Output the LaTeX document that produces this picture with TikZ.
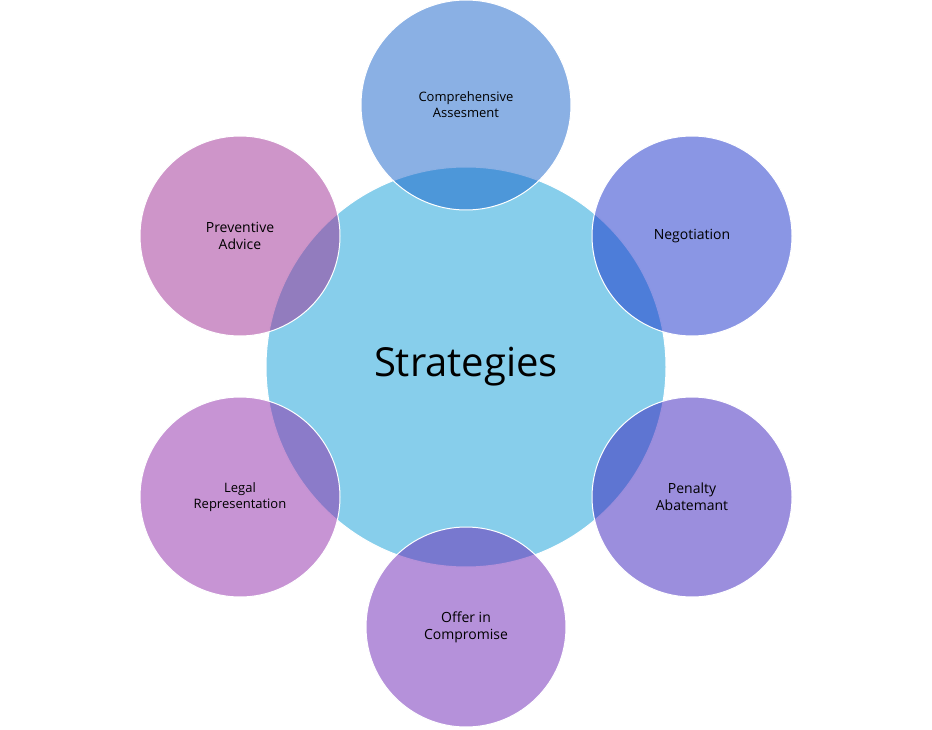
\documentclass[tikz,border=0pt]{standalone}
\usepackage{fontspec}
\setmainfont{Open Sans}
\definecolor{cen}{RGB}{135,206,235}
\definecolor{c1}{RGB}{21,97,201}
\definecolor{c2}{RGB}{21,45,201}
\definecolor{c3}{RGB}{55,29,187}
\definecolor{c4}{RGB}{107,35,181}
\definecolor{c5}{RGB}{143,41,169}
\definecolor{c6}{RGB}{157,43,147}
\begin{document}
\begin{tikzpicture}[x=1pt,y=-1pt,
 sat/.style={circle,minimum size=200pt,inner sep=0pt,draw=white,line width=1pt,fill opacity=0.5,text opacity=1,align=center,font=\fontsize{14}{17}\selectfont}]
\useasboundingbox (0,0) rectangle (932,730);
\node[circle,minimum size=400pt,inner sep=0pt,fill=cen,draw=white,line width=1pt,font=\fontsize{40}{48}\selectfont] (c) at (466,367) {Strategies};
\node[sat,fill=c1,minimum size=210pt,font=\fontsize{13}{16}\selectfont] (a) at (466,105) {Comprehensive\\Assesment};
\node[sat,fill=c2] (b) at (692,236) {Negotiation};
\node[sat,fill=c3] (p) at (692,497) {Penalty\\Abatemant};
\node[sat,fill=c4] (o) at (466,627) {Offer in\\Compromise};
\node[sat,fill=c5,font=\fontsize{13}{16}\selectfont] (l) at (240,497) {Legal\\Representation};
\node[sat,fill=c6] (v) at (240,236) {Preventive\\Advice};
\end{tikzpicture}
\end{document}
